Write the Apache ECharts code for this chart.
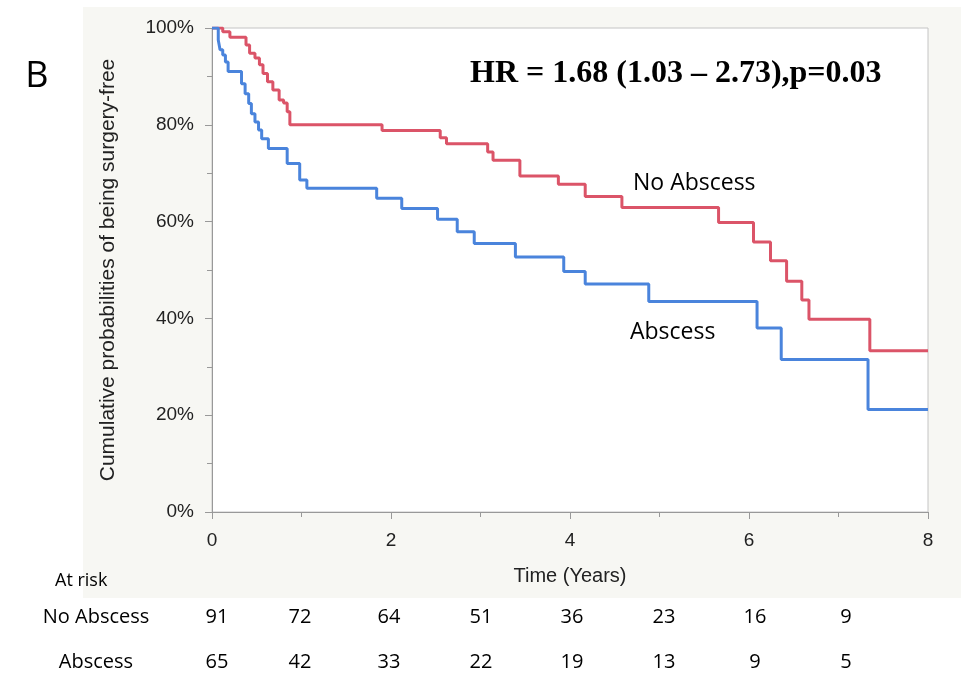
<!DOCTYPE html>
<html>
<head>
<meta charset="utf-8">
<script src="https://cdn.jsdelivr.net/npm/echarts@6/dist/echarts.min.js"></script>
<style>
  html, body {margin: 0; padding: 0; background: #fff;}
  #main {width: 961px; height: 685px;}
</style>
</head>
<body>
<div id="main"></div>
<script>
// Kaplan-Meier steps: [time in years, % surgery-free from that time on]
const noAbscess = [
  [0, 100], [0.12, 99.2], [0.2, 98.1], [0.38, 96.5], [0.42, 94.8], [0.48, 93.8],
  [0.53, 92.4], [0.57, 90.6], [0.62, 88.9], [0.68, 87.2], [0.75, 85.1], [0.8, 84.5],
  [0.84, 82.7], [0.87, 80.0], [1.9, 78.8], [2.55, 77.3], [2.62, 76.1], [3.08, 74.4],
  [3.14, 72.7], [3.44, 69.4], [3.87, 67.7], [4.17, 65.2], [4.58, 62.9], [5.66, 59.8],
  [6.05, 55.8], [6.24, 51.9], [6.42, 47.7], [6.59, 43.8], [6.67, 39.8], [7.35, 33.3],
  [8, 33.3]
];
const abscess = [
  [0, 100], [0.07, 97.5], [0.09, 95.5], [0.12, 94.4], [0.15, 93.0], [0.18, 91.0],
  [0.33, 88.5], [0.37, 86.4], [0.41, 84.4], [0.44, 82.3], [0.48, 80.6], [0.52, 78.9],
  [0.555, 77.1], [0.63, 75.1], [0.84, 72.0], [0.98, 68.6], [1.06, 66.9], [1.84, 64.8],
  [2.12, 62.7], [2.52, 60.5], [2.74, 57.9], [2.93, 55.5], [3.39, 52.7], [3.93, 49.7],
  [4.17, 47.1], [4.88, 43.5], [6.09, 38.0], [6.36, 31.5], [7.33, 21.2], [8, 21.2]
];
const groups = ['No Abscess', 'Abscess'];
const noAbscessAtRisk = [91, 72, 64, 51, 36, 23, 16, 9];
const abscessAtRisk = [65, 42, 33, 22, 19, 13, 9, 5];
const hrText = 'HR = 1.68 (1.03 – 2.73),p=0.03';

const RED = '#db5468';
const BLUE = '#4a84dc';
const colX = [217, 300, 389, 481, 572, 664, 755, 846];
const rowY = [617, 662];
const tableFont = '20px "Open Sans"';

const chart = echarts.init(document.getElementById('main'));

const graphics = [
  {type: 'rect', z: -10, silent: true, shape: {x: 83, y: 7, width: 878, height: 591}, style: {fill: '#f7f7f3'}},
  {type: 'text', style: {text: 'B', x: 37, y: 77, font: '36px "Open Sans"', fill: '#000', align: 'center', verticalAlign: 'middle'}},
  {type: 'text', style: {text: hrText, x: 470, y: 74, font: 'bold 32px "Liberation Serif"', fill: '#000', align: 'left', verticalAlign: 'middle'}},
  {type: 'text', style: {text: groups[0], x: 633, y: 183, font: '23px "Open Sans"', fill: '#000', align: 'left', verticalAlign: 'middle'}},
  {type: 'text', style: {text: groups[1], x: 630, y: 332, font: '23px "Open Sans"', fill: '#000', align: 'left', verticalAlign: 'middle'}},
  {type: 'text', style: {text: 'At risk', x: 55, y: 581, font: '18px "Open Sans"', fill: '#000', align: 'left', verticalAlign: 'middle'}}
];
[noAbscessAtRisk, abscessAtRisk].forEach((row, r) => {
  graphics.push({type: 'text', style: {text: groups[r], x: 96, y: rowY[r], font: tableFont, fill: '#000', align: 'center', verticalAlign: 'middle'}});
  row.forEach((n, i) => {
    graphics.push({type: 'text', style: {text: String(n), x: colX[i], y: rowY[r], font: tableFont, fill: '#000', align: 'center', verticalAlign: 'middle'}});
  });
});

chart.setOption({
  animation: false,
  textStyle: {fontFamily: 'Liberation Sans'},
  grid: {left: 212, right: 33, top: 28, bottom: 173, show: true, backgroundColor: '#fff', borderColor: '#c4c4c4', borderWidth: 1},
  xAxis: {
    type: 'value', min: 0, max: 8, interval: 2,
    name: 'Time (Years)', nameLocation: 'middle', nameGap: 54,
    nameTextStyle: {fontSize: 20, color: '#222'},
    axisLine: {lineStyle: {color: '#999'}},
    axisTick: {show: true, length: 7, lineStyle: {color: '#999'}},
    minorTick: {show: true, splitNumber: 2, length: 5, lineStyle: {color: '#999'}},
    axisLabel: {fontSize: 19, color: '#222', margin: 19},
    splitLine: {show: false}
  },
  yAxis: {
    type: 'value', min: 0, max: 100, interval: 20,
    name: 'Cumulative probabilities of being surgery-free', nameLocation: 'middle', nameGap: 93,
    nameTextStyle: {fontSize: 21, color: '#222'},
    axisLine: {show: true, lineStyle: {color: '#999'}},
    axisTick: {show: true, length: 7, lineStyle: {color: '#999'}},
    minorTick: {show: true, splitNumber: 2, length: 5, lineStyle: {color: '#999'}},
    axisLabel: {fontSize: 19, color: '#222', margin: 18, formatter: '{value}%'},
    splitLine: {show: false}
  },
  series: [
    {name: groups[0], type: 'line', step: 'end', data: noAbscess, showSymbol: false, lineStyle: {color: RED, width: 3}, itemStyle: {color: RED}},
    {name: groups[1], type: 'line', step: 'end', data: abscess, showSymbol: false, lineStyle: {color: BLUE, width: 3}, itemStyle: {color: BLUE}}
  ],
  graphic: graphics
});
</script>
</body>
</html>
